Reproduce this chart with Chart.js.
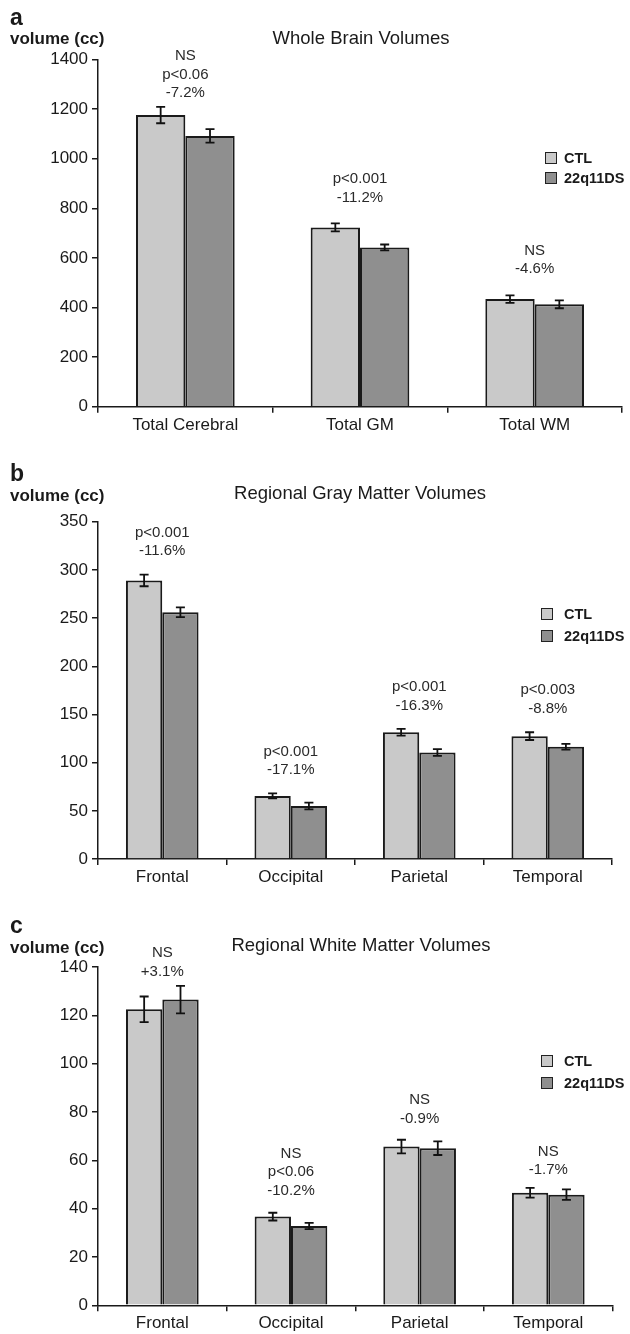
<!DOCTYPE html>
<html><head><meta charset="utf-8">
<script src="https://cdn.jsdelivr.net/npm/chart.js@4.4.0/dist/chart.umd.min.js"></script>
<style>
html,body{margin:0;padding:0;background:#fff;}
body{width:630px;height:1334px;position:relative;overflow:hidden;font-family:"Liberation Sans",Arial,sans-serif;color:#1a1a1a;}
.panel{position:absolute;left:0;width:630px;}
.panel canvas{position:absolute;left:0;top:0;}
.t{position:absolute;white-space:nowrap;transform:translateY(-50%);line-height:1;}
.letter{left:10px;font-weight:bold;font-size:23px;}
.ylab{left:10px;font-weight:bold;font-size:17px;}
.title{font-size:18.5px;transform:translate(-50%,-50%);}
.leg{font-weight:bold;font-size:14.5px;}
.sw{position:absolute;width:10px;height:10px;border:1.5px solid #222;transform:translateY(-50%);}
</style></head><body>
<script>
// ---------- DATA ----------
const seriesNames = ['CTL', '22q11DS'];

const wholeCategories = ['Total Cerebral', 'Total GM', 'Total WM'];
const wholeCTL = [1176, 723, 434];
const wholeCTLErr = [33, 16, 15];
const wholeDS = [1092, 642, 413];
const wholeDSErr = [27, 12, 16];
const wholeNotes = [['NS', 'p<0.06', '-7.2%'], ['p<0.001', '-11.2%'], ['NS', '-4.6%']];
const wholeTicks = [0, 200, 400, 600, 800, 1000, 1200, 1400];

const regionCategories = ['Frontal', 'Occipital', 'Parietal', 'Temporal'];

const gmCTL = [289, 65.5, 131.5, 127.5];
const gmCTLErr = [6, 2.5, 3.5, 4];
const gmDS = [256, 55, 110.5, 116.5];
const gmDSErr = [5, 3.5, 3.5, 3];
const gmNotes = [['p<0.001', '-11.6%'], ['p<0.001', '-17.1%'], ['p<0.001', '-16.3%'], ['p<0.003', '-8.8%']];
const gmTicks = [0, 50, 100, 150, 200, 250, 300, 350];

const wmCTL = [122.5, 36.7, 65.7, 46.6];
const wmCTLErr = [5.3, 1.6, 2.8, 2];
const wmDS = [126.5, 32.8, 65, 45.8];
const wmDSErr = [5.7, 1.3, 2.8, 2.2];
const wmNotes = [['NS', '+3.1%'], ['NS', 'p<0.06', '-10.2%'], ['NS', '-0.9%'], ['NS', '-1.7%']];
const wmTicks = [0, 20, 40, 60, 80, 100, 120, 140];

// ---------- STYLE ----------
const COLORS = ['#c9c9c9', '#8f8f8f'];
const EDGE = '#1a1a1a';
const FONT = '"Liberation Sans", Arial, sans-serif';
Chart.defaults.font.family = FONT;
Chart.defaults.color = '#1a1a1a';

const errorBarPlugin = {
  id: 'errorBars',
  afterDatasetsDraw(chart) {
    const ctx = chart.ctx, y = chart.scales.y;
    chart.data.datasets.forEach((ds, di) => {
      const meta = chart.getDatasetMeta(di);
      meta.data.forEach((bar, i) => {
        const v = ds.data[i], e = ds.errors[i];
        const yt = y.getPixelForValue(v + e), yb = y.getPixelForValue(v - e);
        ctx.save();
        ctx.strokeStyle = '#111';
        ctx.lineWidth = 1.8;
        ctx.beginPath();
        ctx.moveTo(bar.x, yt); ctx.lineTo(bar.x, yb);
        ctx.moveTo(bar.x - 4.5, yt); ctx.lineTo(bar.x + 4.5, yt);
        ctx.moveTo(bar.x - 4.5, yb); ctx.lineTo(bar.x + 4.5, yb);
        ctx.stroke();
        ctx.restore();
      });
    });
  }
};

function makePanel(cfg, categories, ctl, ctlErr, ds, dsErr, notes, ticks) {
  const div = document.createElement('div');
  div.className = 'panel';
  div.style.top = cfg.top + 'px';
  div.style.height = cfg.height + 'px';
  document.body.appendChild(div);

  const add = (cls, text, css) => {
    const el = document.createElement('div');
    el.className = 't ' + cls;
    el.textContent = text;
    Object.assign(el.style, css);
    div.appendChild(el);
    return el;
  };

  const canvas = document.createElement('canvas');
  canvas.width = 630; canvas.height = cfg.height;
  canvas.style.width = '630px'; canvas.style.height = cfg.height + 'px';
  div.appendChild(canvas);

  add('letter', cfg.letter, {top: cfg.letterY + 'px'});
  add('ylab', 'volume (cc)', {top: cfg.ylabY + 'px'});
  add('title', cfg.title, {top: cfg.titleY + 'px', left: cfg.titleX + 'px'});
  seriesNames.forEach((name, k) => {
    const sw = document.createElement('div');
    sw.className = 'sw';
    sw.style.left = cfg.swX + 'px';
    sw.style.top = cfg.legY[k] + 'px';
    sw.style.background = COLORS[k];
    div.appendChild(sw);
    add('leg', name, {top: cfg.legY[k] + 'px', left: cfg.legTextX + 'px'});
  });

  const notesPlugin = {
    id: 'notes' + cfg.letter,
    afterDraw(chart) {
      const ctx = chart.ctx, x = chart.scales.x, y = chart.scales.y;
      ctx.save();
      ctx.font = '15px ' + FONT;
      ctx.fillStyle = '#2a2a2a';
      ctx.textAlign = 'center';
      ctx.textBaseline = 'middle';
      notes.forEach((lines, i) => {
        let top = Infinity;
        chart.data.datasets.forEach(d => {
          top = Math.min(top, y.getPixelForValue(d.data[i] + d.errors[i]));
        });
        const cx = x.getPixelForValue(i);
        const n = lines.length;
        const g = Array.isArray(cfg.gap) ? cfg.gap[i] : cfg.gap;
        lines.forEach((s, k) => {
          ctx.fillText(s, cx, top - g - (n - 1 - k) * 18.5);
        });
      });
      ctx.restore();
    }
  };

  const common = {
    borderColor: EDGE, borderWidth: 2, borderSkipped: 'bottom',
    categoryPercentage: 0.565, barPercentage: 1.0
  };

  new Chart(canvas, {
    type: 'bar',
    data: {
      labels: categories,
      datasets: [
        Object.assign({label: seriesNames[0], data: ctl, errors: ctlErr, backgroundColor: COLORS[0]}, common),
        Object.assign({label: seriesNames[1], data: ds, errors: dsErr, backgroundColor: COLORS[1]}, common)
      ]
    },
    options: {
      responsive: false, animation: false, devicePixelRatio: 1,
      layout: {padding: {left: 0, right: cfg.padRight, top: cfg.padTop, bottom: cfg.padBottom}},
      plugins: {legend: {display: false}, tooltip: {enabled: false}, title: {display: false}},
      scales: {
        x: {
          grid: {display: true, drawOnChartArea: false, drawTicks: true, tickLength: 6, color: EDGE, lineWidth: 1.5, offset: true},
          border: {display: true, color: EDGE, width: 1.5},
          ticks: {font: {size: 17}, color: '#1a1a1a', padding: 2, maxRotation: 0},
          afterFit(s) { s.height = cfg.xAxisH; s.paddingLeft = 0; s.paddingRight = 0; }
        },
        y: {
          min: ticks[0], max: ticks[ticks.length - 1],
          afterBuildTicks(s) { s.ticks = ticks.map(v => ({value: v})); },
          grid: {display: true, drawOnChartArea: false, drawTicks: true, tickLength: 6, color: EDGE, lineWidth: 1.5},
          border: {display: true, color: EDGE, width: 1.5},
          ticks: {font: {size: 17}, color: '#1a1a1a', padding: 4, callback: v => String(v)},
          afterFit(s) { s.width = 98; s.paddingTop = 0; s.paddingBottom = 0; }
        }
      }
    },
    plugins: [errorBarPlugin, notesPlugin]
  });
}

makePanel({letter: 'a', title: 'Whole Brain Volumes', top: 0, height: 445,
  padTop: 59.5, padBottom: 8.3, padRight: 8, xAxisH: 30,
  letterY: 17, ylabY: 38, titleY: 38, titleX: 361,
  legY: [157.5, 178], swX: 545, legTextX: 564, gap: [14, 26, 26]},
  wholeCategories, wholeCTL, wholeCTLErr, wholeDS, wholeDSErr, wholeNotes, wholeTicks);

makePanel({letter: 'b', title: 'Regional Gray Matter Volumes', top: 445, height: 445,
  padTop: 76.7, padBottom: 1, padRight: 18, xAxisH: 30,
  letterY: 28, ylabY: 50, titleY: 48, titleX: 360,
  legY: [169, 191], swX: 541, legTextX: 564, gap: 23.5},
  regionCategories, gmCTL, gmCTLErr, gmDS, gmDSErr, gmNotes, gmTicks);

makePanel({letter: 'c', title: 'Regional White Matter Volumes', top: 890, height: 444,
  padTop: 77, padBottom: 0.7, padRight: 17.4, xAxisH: 28,
  letterY: 35, ylabY: 57, titleY: 55, titleX: 361,
  legY: [170.7, 192.7], swX: 541, legTextX: 564, gap: [14, 22, 21, 18]},
  regionCategories, wmCTL, wmCTLErr, wmDS, wmDSErr, wmNotes, wmTicks);
</script>
</body></html>
